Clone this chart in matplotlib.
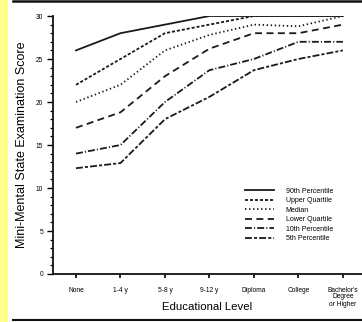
import matplotlib
matplotlib.use('Agg')
import matplotlib.pyplot as plt
from matplotlib.ticker import MultipleLocator

plt.rcParams.update({
    'font.family': ['Liberation Sans', 'DejaVu Sans'],
    'lines.scale_dashes': False,
})

# educational levels and MMSE percentile curves
levels = ["None", "1-4 y", "5-8 y", "9-12 y", "Diploma", "College",
          "Bachelor's\nDegree\nor Higher"]
p90 = [26, 28, 29, 30, 30, 30, 30]
upper_q = [22, 25, 28, 29, 30, 30, 30]
median = [20, 22, 26, 27.8, 29, 28.8, 30]
lower_q = [17, 18.8, 23, 26.2, 28, 28, 29]
p10 = [14, 15, 20, 23.7, 25, 27, 27]
p5 = [12.3, 12.9, 18, 20.6, 23.7, 25, 26]

series = [
    ("90th Percentile", p90, '-'),
    ("Upper Quartile", upper_q, (0, (2.2, 1.4))),
    ("Median", median, (0, (1.0, 1.9))),
    ("Lower Quartile", lower_q, (0, (5.0, 3.2))),
    ("10th Percentile", p10, (0, (5.0, 1.5, 0.8, 1.5))),
    ("5th Percentile", p5, (0, (5.0, 1.5, 2.2, 1.5))),
]

fig = plt.figure(figsize=(3.62, 3.22), dpi=100)
fig.patch.set_facecolor('white')

# yellow strip on the left and the black rules at top and bottom
fig.add_artist(plt.Rectangle((0, 0), 7.5 / 362, 1, transform=fig.transFigure,
                             color='#ffff8c', lw=0))
fig.add_artist(plt.Line2D([13 / 362, 1], [1 - 1.2 / 322, 1 - 1.2 / 322],
                          transform=fig.transFigure, color='#111111', lw=1.8))
fig.add_artist(plt.Line2D([13 / 362, 1], [2 / 322, 2 / 322],
                          transform=fig.transFigure, color='#111111', lw=1.5))

ax = fig.add_axes([53 / 362, 48 / 322, 309 / 362, 258 / 322])
x = list(range(len(levels)))
for name, vals, ls in series:
    ax.plot(x, vals, linestyle=ls, color='#1a1a1a', lw=1.3, label=name)

ax.set_xlim(-0.517, 6.43)
ax.set_ylim(0, 30)
ax.set_xticks(x)
ax.set_xticklabels(levels, fontsize=4.8, linespacing=1.0)
ax.yaxis.set_major_locator(MultipleLocator(5))
ax.yaxis.set_minor_locator(MultipleLocator(1))
ax.tick_params(axis='y', which='major', labelsize=4.8, length=4, width=1.0, pad=3)
ax.tick_params(axis='y', which='minor', length=2.5, width=0.9)
ax.tick_params(axis='x', which='major', length=3, width=1.2, pad=6)

for side in ('top', 'right'):
    ax.spines[side].set_visible(False)
for side in ('left', 'bottom'):
    ax.spines[side].set_linewidth(1.3)
    ax.spines[side].set_color('#111111')

ax.set_xlabel("Educational Level", fontsize=8.2, labelpad=-4)
ax.set_ylabel("Mini-Mental State Examination Score", fontsize=9, labelpad=6)

ax.legend(loc='upper left', bbox_to_anchor=(0.62, 0.335), frameon=False,
          fontsize=5, handlelength=4.3, handletextpad=1.6, labelspacing=0.36,
          borderpad=0, borderaxespad=0)

fig.savefig('out.png', dpi=100)
